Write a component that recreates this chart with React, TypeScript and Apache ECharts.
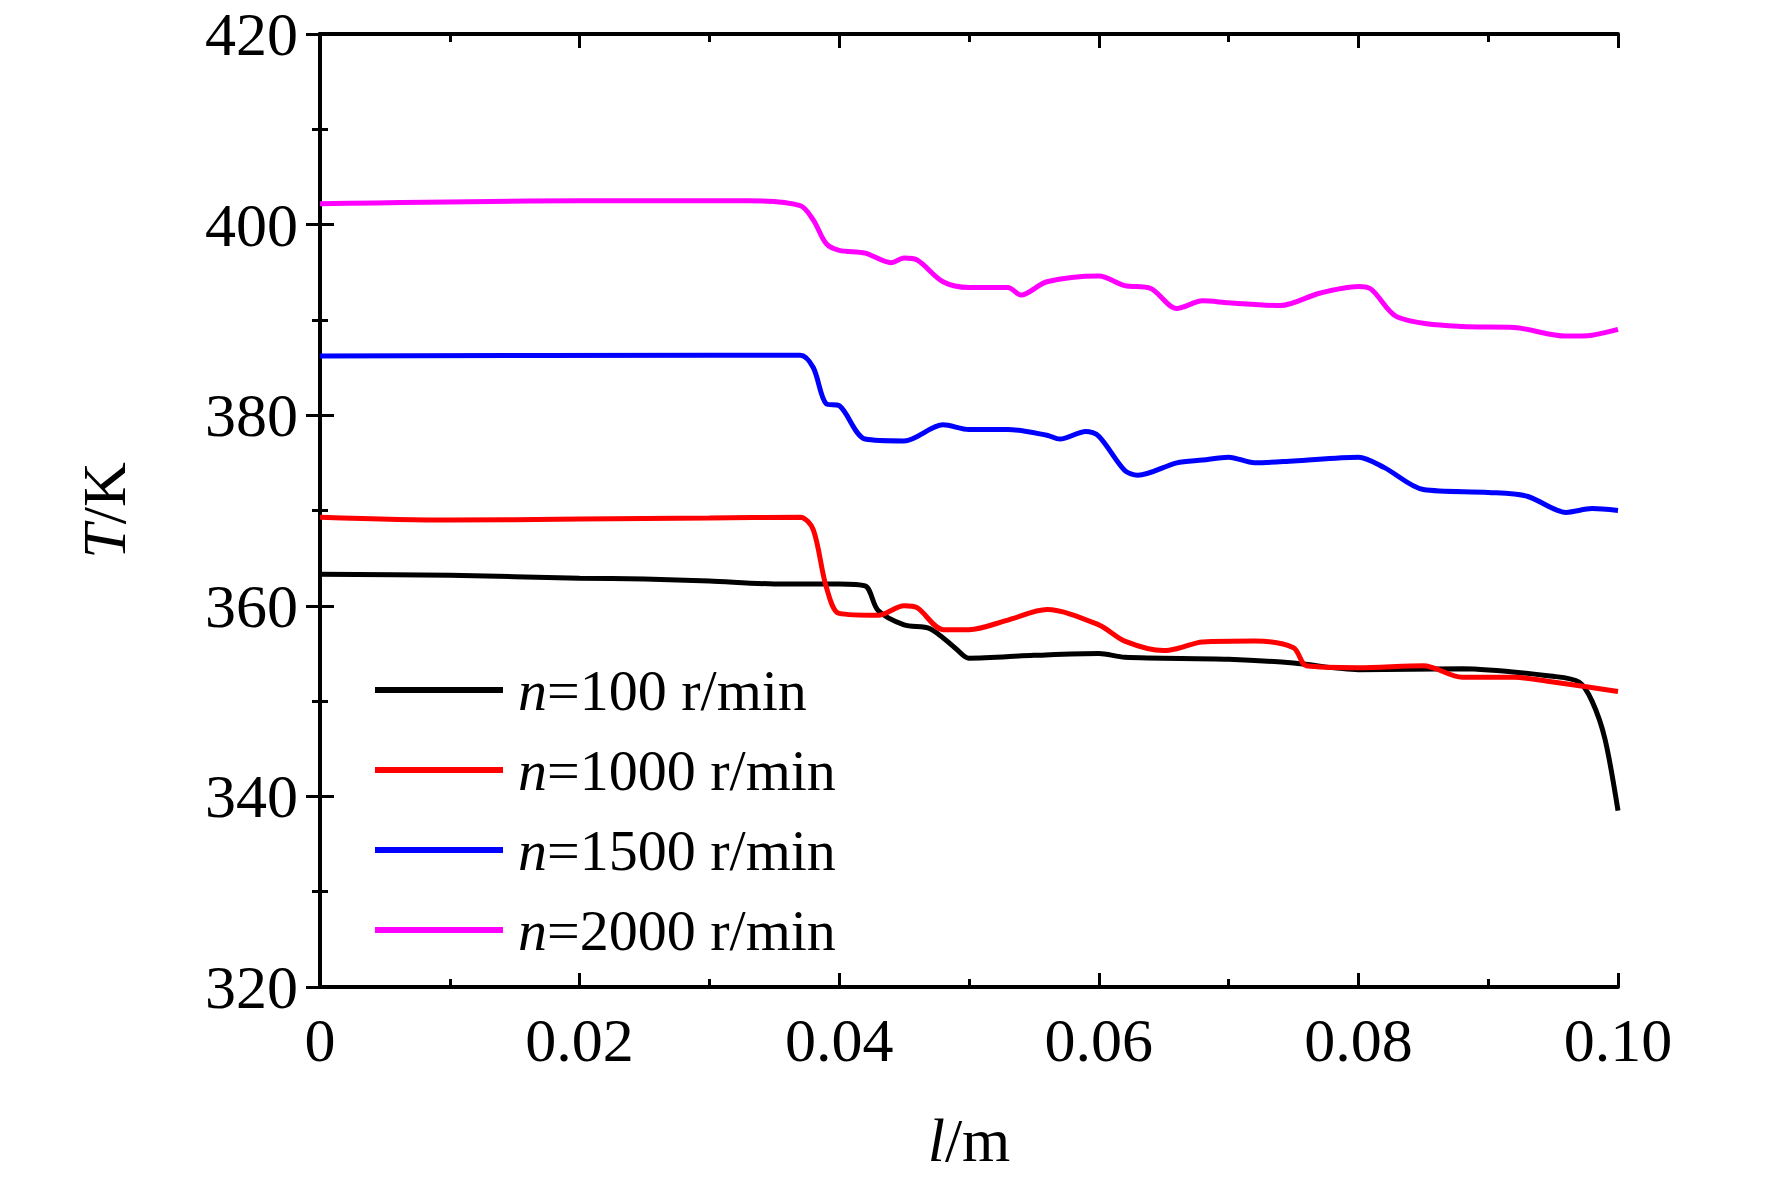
import { useEffect, useRef } from "react";
import * as echarts from "echarts";

const seriesNames = ["100", "1000", "1500", "2000"];
const seriesColors = ["#000000", "#ff0000", "#0000ff", "#ff00ff"];

const black: [number, number][] = [
  [0, 363.3], [0.01, 363.2], [0.02, 362.9], [0.025, 362.8], [0.03, 362.6], [0.035, 362.3], [0.04, 362.3],
  [0.042, 362.1], [0.043, 359.5], [0.045, 358], [0.047, 357.6], [0.049, 355.5], [0.05, 354.5],
  [0.055, 354.8], [0.06, 355], [0.062, 354.6], [0.07, 354.4], [0.075, 354], [0.08, 353.3],
  [0.088, 353.4], [0.095, 352.6], [0.097, 352], [0.098, 350], [0.099, 346], [0.1, 338.5],
];
const red: [number, number][] = [
  [0, 369.3], [0.01, 369], [0.02, 369.1], [0.03, 369.2], [0.037, 369.3], [0.038, 368], [0.039, 362],
  [0.04, 359.2], [0.043, 359], [0.045, 360], [0.046, 359.8], [0.048, 357.5], [0.05, 357.5],
  [0.053, 358.5], [0.056, 359.6], [0.06, 358], [0.062, 356.3], [0.065, 355.3], [0.066, 355.5],
  [0.068, 356.2], [0.072, 356.3], [0.075, 355.6], [0.076, 353.7], [0.08, 353.5], [0.085, 353.7],
  [0.088, 352.5], [0.092, 352.5], [0.095, 352], [0.1, 351],
];
const blue: [number, number][] = [
  [0, 386.2], [0.03, 386.3], [0.037, 386.3], [0.038, 385], [0.039, 381.2], [0.04, 381], [0.042, 377.5],
  [0.045, 377.3], [0.048, 379], [0.05, 378.5], [0.053, 378.5], [0.056, 377.9], [0.057, 377.5],
  [0.059, 378.3], [0.06, 377.8], [0.062, 374.2], [0.063, 373.7], [0.066, 375], [0.068, 375.3],
  [0.07, 375.6], [0.072, 375], [0.075, 375.2], [0.08, 375.6], [0.082, 374.5], [0.085, 372.2],
  [0.09, 371.9], [0.093, 371.5], [0.096, 369.8], [0.098, 370.2], [0.1, 370],
];
const magenta: [number, number][] = [
  [0, 402.2], [0.02, 402.5], [0.033, 402.5], [0.037, 402], [0.038, 400.5], [0.039, 398], [0.04, 397.3],
  [0.042, 397], [0.044, 396], [0.045, 396.5], [0.046, 396.3], [0.048, 394], [0.05, 393.4],
  [0.053, 393.4], [0.054, 392.6], [0.056, 394], [0.06, 394.6], [0.062, 393.6], [0.064, 393.3],
  [0.066, 391.2], [0.068, 392], [0.07, 391.8], [0.074, 391.5], [0.077, 392.8], [0.08, 393.5],
  [0.081, 393.2], [0.083, 390.3], [0.088, 389.3], [0.092, 389.2], [0.096, 388.3], [0.098, 388.4],
  [0.1, 389],
];
const seriesData = [black, red, blue, magenta];

const FONT = "Liberation Serif";

export default function App() {
  const ref = useRef<HTMLDivElement>(null);

  useEffect(() => {
    document.body.style.margin = "0";
    if (!ref.current) return;
    const chart = echarts.init(ref.current, null, { renderer: "svg" });
    const axisLine = { show: true, lineStyle: { color: "#000", width: 4 } };
    const tick = { show: true, inside: true, length: 14, lineStyle: { color: "#000", width: 3 } };
    const minor = { show: true, splitNumber: 2, length: 8, lineStyle: { color: "#000", width: 3 } };
    const label = { color: "#000", fontFamily: FONT, fontSize: 62 };
    chart.setOption({
      animation: false,
      backgroundColor: "#fff",
      grid: { left: 320, right: 154, top: 34, bottom: 190 },
      legend: {
        orient: "vertical",
        left: 370,
        top: 656,
        itemWidth: 128,
        itemHeight: 6,
        itemGap: 22,
        icon: "rect",
        textStyle: {
          color: "#000",
          fontFamily: FONT,
          fontSize: 58,
          padding: [0, 0, 0, 10],
          rich: { i: { fontStyle: "italic", fontFamily: FONT, fontSize: 58 } },
        },
        formatter: (name: string) => `{i|n}=${name} r/min`,
        data: seriesNames,
      },
      xAxis: [
        {
          type: "value", min: 0, max: 0.1, interval: 0.02,
          axisLine, axisTick: tick, minorTick: minor, splitLine: { show: false },
          axisLabel: { ...label, margin: 22, formatter: (v: number) => (v === 0 ? "0" : v.toFixed(2)) },
          name: "{i|l}/m", nameLocation: "middle", nameGap: 122,
          nameTextStyle: { ...label, rich: { i: { ...label, fontStyle: "italic" } } },
        },
        {
          type: "value", position: "top", min: 0, max: 0.1, interval: 0.02,
          axisLine, axisTick: tick, minorTick: minor, axisLabel: { show: false }, splitLine: { show: false },
        },
      ],
      yAxis: [
        {
          type: "value", min: 320, max: 420, interval: 20,
          axisLine, axisTick: tick, minorTick: minor, splitLine: { show: false },
          axisLabel: { ...label, margin: 22 },
          name: "{i|T}/K", nameLocation: "middle", nameGap: 185, nameRotate: 90,
          nameTextStyle: { ...label, rich: { i: { ...label, fontStyle: "italic" } } },
        },
        {
          type: "value", position: "right", min: 320, max: 420, interval: 20,
          axisLine, axisTick: tick, minorTick: minor, axisLabel: { show: false }, splitLine: { show: false },
        },
      ],
      series: seriesNames.map((n, i) => ({
        name: n,
        type: "line",
        data: seriesData[i],
        symbol: "none",
        smooth: 0.3,
        color: seriesColors[i],
        lineStyle: { width: 5, color: seriesColors[i] },
      })),
    });
    return () => chart.dispose();
  }, []);

  return <div ref={ref} style={{ width: 1772, height: 1177 }} />;
}
